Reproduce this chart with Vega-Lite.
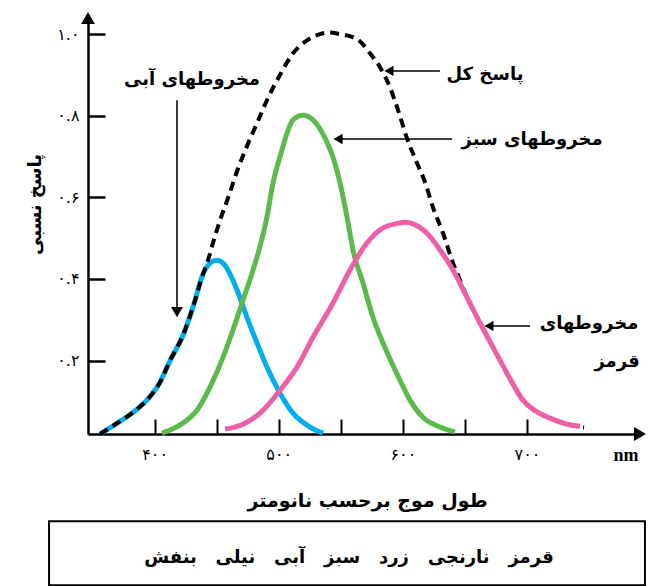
{
  "$schema": "https://vega.github.io/schema/vega-lite/v6.json",
  "width": 552,
  "height": 416,
  "autosize": {"type": "none"},
  "padding": {"left": 88, "top": 18, "right": 9, "bottom": 152},
  "background": "white",
  "config": {"view": {"stroke": null}, "axis": {"grid": false}},
  "datasets": {
    "blue": [
      {"wl": 356.0, "r": 0.020}, {"wl": 370.0, "r": 0.047}, {"wl": 382.6, "r": 0.073},
      {"wl": 396.3, "r": 0.112}, {"wl": 404.0, "r": 0.145}, {"wl": 412.4, "r": 0.200},
      {"wl": 422.9, "r": 0.262}, {"wl": 430.9, "r": 0.331}, {"wl": 439.0, "r": 0.412},
      {"wl": 445.0, "r": 0.440}, {"wl": 450.2, "r": 0.446}, {"wl": 456.0, "r": 0.436},
      {"wl": 466.4, "r": 0.373}, {"wl": 474.4, "r": 0.306}, {"wl": 482.5, "r": 0.243},
      {"wl": 490.5, "r": 0.184}, {"wl": 501.0, "r": 0.120}, {"wl": 511.5, "r": 0.071},
      {"wl": 525.2, "r": 0.037}, {"wl": 535.7, "r": 0.022}
    ],
    "total": [
      {"wl": 356.0, "r": 0.020}, {"wl": 370.0, "r": 0.047}, {"wl": 382.6, "r": 0.073},
      {"wl": 396.3, "r": 0.112}, {"wl": 404.0, "r": 0.145}, {"wl": 412.4, "r": 0.200},
      {"wl": 422.9, "r": 0.262}, {"wl": 430.9, "r": 0.331}, {"wl": 439.0, "r": 0.412},
      {"wl": 443.0, "r": 0.446}, {"wl": 447.0, "r": 0.488}, {"wl": 452.7, "r": 0.544},
      {"wl": 459.1, "r": 0.598}, {"wl": 466.4, "r": 0.664}, {"wl": 473.6, "r": 0.720},
      {"wl": 482.5, "r": 0.782}, {"wl": 490.5, "r": 0.838}, {"wl": 501.0, "r": 0.900},
      {"wl": 511.5, "r": 0.953}, {"wl": 522.8, "r": 0.985}, {"wl": 533.2, "r": 1.000},
      {"wl": 541.0, "r": 1.004}, {"wl": 549.4, "r": 1.000}, {"wl": 563.1, "r": 0.988},
      {"wl": 573.5, "r": 0.953}, {"wl": 581.6, "r": 0.919}, {"wl": 589.6, "r": 0.870},
      {"wl": 596.1, "r": 0.814}, {"wl": 603.3, "r": 0.745}, {"wl": 611.4, "r": 0.684},
      {"wl": 617.8, "r": 0.638}, {"wl": 624.2, "r": 0.576}, {"wl": 632.4, "r": 0.512},
      {"wl": 639.6, "r": 0.446}, {"wl": 646.1, "r": 0.397}, {"wl": 651.7, "r": 0.355},
      {"wl": 662.2, "r": 0.292}, {"wl": 672.6, "r": 0.233}, {"wl": 683.9, "r": 0.169},
      {"wl": 696.8, "r": 0.103}, {"wl": 708.1, "r": 0.074}, {"wl": 718.6, "r": 0.059},
      {"wl": 732.3, "r": 0.044}, {"wl": 746.0, "r": 0.036}
    ],
    "green": [
      {"wl": 405.9, "r": 0.022}, {"wl": 422.9, "r": 0.047}, {"wl": 434.1, "r": 0.078},
      {"wl": 444.6, "r": 0.135}, {"wl": 455.1, "r": 0.208}, {"wl": 463.1, "r": 0.275},
      {"wl": 471.2, "r": 0.348}, {"wl": 479.3, "r": 0.422}, {"wl": 484.9, "r": 0.480},
      {"wl": 490.5, "r": 0.552}, {"wl": 495.4, "r": 0.635}, {"wl": 502.6, "r": 0.716},
      {"wl": 506.6, "r": 0.757}, {"wl": 511.5, "r": 0.790}, {"wl": 519.5, "r": 0.801},
      {"wl": 527.6, "r": 0.790}, {"wl": 538.9, "r": 0.735}, {"wl": 543.7, "r": 0.699},
      {"wl": 549.4, "r": 0.635}, {"wl": 555.0, "r": 0.552}, {"wl": 559.8, "r": 0.471},
      {"wl": 567.9, "r": 0.390}, {"wl": 575.9, "r": 0.306}, {"wl": 584.0, "r": 0.243},
      {"wl": 597.7, "r": 0.152}, {"wl": 605.8, "r": 0.103}, {"wl": 616.2, "r": 0.061},
      {"wl": 629.9, "r": 0.037}, {"wl": 642.0, "r": 0.025}
    ],
    "red": [
      {"wl": 456.7, "r": 0.032}, {"wl": 471.2, "r": 0.044}, {"wl": 487.3, "r": 0.078},
      {"wl": 501.0, "r": 0.127}, {"wl": 514.7, "r": 0.184}, {"wl": 527.6, "r": 0.257},
      {"wl": 543.7, "r": 0.341}, {"wl": 557.4, "r": 0.422}, {"wl": 571.1, "r": 0.488},
      {"wl": 584.0, "r": 0.525}, {"wl": 595.3, "r": 0.536}, {"wl": 602.0, "r": 0.539},
      {"wl": 608.2, "r": 0.535}, {"wl": 619.5, "r": 0.512}, {"wl": 630.0, "r": 0.471},
      {"wl": 640.4, "r": 0.422}, {"wl": 651.7, "r": 0.355}, {"wl": 662.2, "r": 0.292},
      {"wl": 672.6, "r": 0.233}, {"wl": 683.9, "r": 0.169}, {"wl": 696.8, "r": 0.103},
      {"wl": 708.1, "r": 0.074}, {"wl": 718.6, "r": 0.059}, {"wl": 732.3, "r": 0.044},
      {"wl": 742.8, "r": 0.039}
    ],
    "arrows": [
      {"wl": 418.0, "r": 0.838, "wl2": 418.0, "r2": 0.32},
      {"wl": 629.9, "r": 0.910, "wl2": 590.0, "r2": 0.910},
      {"wl": 639.6, "r": 0.743, "wl2": 549.0, "r2": 0.743},
      {"wl": 702.5, "r": 0.285, "wl2": 670.0, "r2": 0.285}
    ],
    "headsLeft": [
      {"wl": 588.8, "r": 0.910},
      {"wl": 547.8, "r": 0.743},
      {"wl": 669.4, "r": 0.285}
    ],
    "headsDown": [
      {"wl": 418.0, "r": 0.319}
    ],
    "axisUp": [{"wl": 346.3, "r": 1.0396}],
    "axisRight": [{"wl": 791.1, "r": 0.02}],
    "labels": [
      {"wl": 430.1, "r": 0.887, "text": "مخروطهای آبی"},
      {"wl": 666.2, "r": 0.900, "text": "پاسخ کل"},
      {"wl": 704.1, "r": 0.740, "text": "مخروطهای سبز"},
      {"wl": 750.0, "r": 0.289, "text": "مخروطهای"},
      {"wl": 772.6, "r": 0.196, "text": "قرمز"}
    ],
    "unit": [{"wl": 779.8, "r": -0.034, "text": "nm"}],
    "box": [{"wl": 314.9, "r": -0.1936, "wl2": 795.1, "r2": -0.3505}],
    "spectrum": [{"wl": 556.6, "r": -0.284, "text": "قرمز\u00a0\u00a0 نارنجی\u00a0\u00a0 زرد\u00a0\u00a0 سبز\u00a0\u00a0 آبی\u00a0\u00a0 نیلی\u00a0\u00a0 بنفش"}]
  },
  "encoding": {
    "x": {
      "field": "wl", "type": "quantitative",
      "scale": {"domain": [346.3, 791.1], "nice": false, "zero": false},
      "axis": {
        "values": [400, 450, 500, 550, 600, 650, 700],
        "labelExpr": "datum.value == 400 ? '۴۰۰' : datum.value == 500 ? '۵۰۰' : datum.value == 600 ? '۶۰۰' : datum.value == 700 ? '۷۰۰' : ''",
        "tickSize": -15, "tickWidth": 2, "tickColor": "black",
        "domainColor": "black", "domainWidth": 2.5,
        "labelPadding": 27, "labelFont": "DejaVu Sans", "labelFontSize": 16, "labelColor": "black",
        "labelFlush": false, "labelOverlap": false,
        "title": "طول موج برحسب نانومتر",
        "titleFont": "DejaVu Sans", "titleFontSize": 19, "titleFontWeight": "bold", "titleColor": "black",
        "titleX": 279, "titleY": 66, "titleAlign": "center", "titleBaseline": "middle"
      }
    },
    "y": {
      "field": "r", "type": "quantitative",
      "scale": {"domain": [0.02, 1.0396], "nice": false, "zero": false},
      "axis": {
        "values": [0.2, 0.4, 0.6, 0.8, 1.0],
        "labelExpr": "datum.value > 0.9 ? '۱.۰' : datum.value > 0.7 ? '۰.۸' : datum.value > 0.5 ? '۰.۶' : datum.value > 0.3 ? '۰.۴' : '۰.۲'",
        "tickSize": -17, "tickWidth": 2.5, "tickColor": "black",
        "domainColor": "black", "domainWidth": 2.5,
        "labelPadding": 26, "labelFont": "DejaVu Sans", "labelFontSize": 16, "labelColor": "black",
        "labelFlush": false, "labelOverlap": false,
        "title": "پاسخ نسبی",
        "titleFont": "DejaVu Sans", "titleFontSize": 18, "titleFontWeight": "bold", "titleColor": "black",
        "titleX": -53, "titleY": 186, "titleAngle": -90, "titleAlign": "center", "titleBaseline": "middle"
      }
    }
  },
  "layer": [
    {"data": {"name": "blue"}, "mark": {"type": "line", "interpolate": "monotone", "color": "#00AEEF", "strokeWidth": 5, "strokeCap": "butt", "strokeJoin": "round"}},
    {"data": {"name": "total"}, "mark": {"type": "line", "interpolate": "monotone", "color": "black", "strokeWidth": 4, "strokeDash": [9, 6], "strokeCap": "butt"}},
    {"data": {"name": "green"}, "mark": {"type": "line", "interpolate": "monotone", "color": "#5BBA4B", "strokeWidth": 5, "strokeCap": "butt", "strokeJoin": "round"}},
    {"data": {"name": "red"}, "mark": {"type": "line", "interpolate": "monotone", "color": "#EE5FA7", "strokeWidth": 5, "strokeCap": "butt", "strokeJoin": "round"}},
    {"data": {"name": "arrows"}, "mark": {"type": "rule", "color": "black", "strokeWidth": 1.5},
     "encoding": {"x2": {"field": "wl2"}, "y2": {"field": "r2"}}},
    {"data": {"name": "headsLeft"}, "mark": {"type": "point", "shape": "triangle-left", "filled": true, "color": "black", "size": 110, "opacity": 1}},
    {"data": {"name": "headsDown"}, "mark": {"type": "point", "shape": "triangle-down", "filled": true, "color": "black", "size": 140, "opacity": 1}},
    {"data": {"name": "axisUp"}, "mark": {"type": "point", "shape": "triangle-up", "filled": true, "color": "black", "size": 190, "opacity": 1}},
    {"data": {"name": "axisRight"}, "mark": {"type": "point", "shape": "triangle-right", "filled": true, "color": "black", "size": 190, "opacity": 1}},
    {"data": {"name": "labels"}, "mark": {"type": "text", "font": "DejaVu Sans", "fontSize": 18, "fontWeight": "bold", "color": "black", "align": "center", "baseline": "middle"},
     "encoding": {"text": {"field": "text"}}},
    {"data": {"name": "unit"}, "mark": {"type": "text", "font": "Liberation Serif", "fontSize": 18, "fontWeight": "bold", "color": "black", "align": "center", "baseline": "middle"},
     "encoding": {"text": {"field": "text"}}},
    {"data": {"name": "box"}, "mark": {"type": "rect", "filled": false, "color": "black", "strokeWidth": 2},
     "encoding": {"x2": {"field": "wl2"}, "y2": {"field": "r2"}}},
    {"data": {"name": "spectrum"}, "mark": {"type": "text", "font": "DejaVu Sans", "fontSize": 18, "fontWeight": "bold", "color": "black", "align": "center", "baseline": "middle"},
     "encoding": {"text": {"field": "text"}}}
  ]
}
